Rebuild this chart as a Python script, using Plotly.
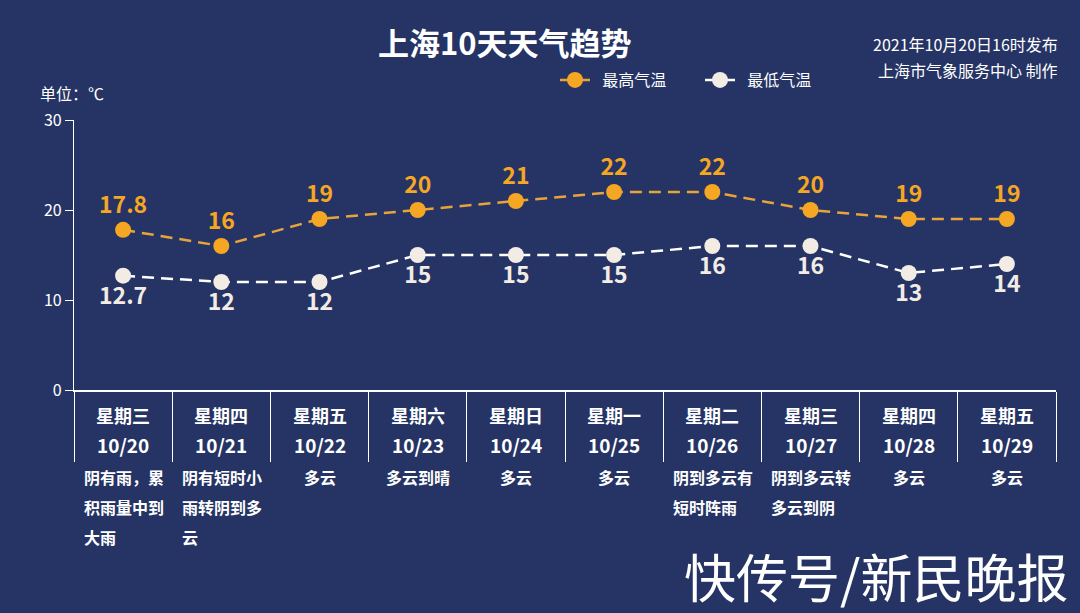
import plotly.graph_objects as go

weekdays = ["星期三", "星期四", "星期五", "星期六", "星期日", "星期一", "星期二", "星期三", "星期四", "星期五"]
dates = ["10/20", "10/21", "10/22", "10/23", "10/24", "10/25", "10/26", "10/27", "10/28", "10/29"]
high_temps = [17.8, 16, 19, 20, 21, 22, 22, 20, 19, 19]
low_temps = [12.7, 12, 12, 15, 15, 15, 16, 16, 13, 14]
weather = [
    ["阴有雨，累", "积雨量中到", "大雨"],
    ["阴有短时小", "雨转阴到多", "云"],
    ["多云"],
    ["多云到晴"],
    ["多云"],
    ["多云"],
    ["阴到多云有", "短时阵雨"],
    ["阴到多云转", "多云到阴"],
    ["多云"],
    ["多云"],
]
y_ticks = [0, 10, 20, 30]

BG = "#253464"
ORANGE = "#F5A623"
CREAM = "#F3ECE4"
FONT = "Noto Sans CJK SC"

W, H = 1080, 613
L, R, T, B = 74, 24, 120, 223
pw, ph = W - L - R, H - T - B
def px(x):
    return (x - L) / pw
def py(y):
    return (H - B - y) / ph

fig = go.Figure()
fig.add_trace(go.Scatter(
    x=dates, y=high_temps, name="  最高气温", mode="lines+markers+text",
    line=dict(color="#E8A33A", width=2.5, dash="12px,7px"),
    marker=dict(color=ORANGE, size=16),
    text=[f"{v:g}" for v in high_temps], textposition="top center",
    textfont=dict(color=ORANGE, size=23, family=FONT, weight="bold"),
    cliponaxis=False,
))
fig.add_trace(go.Scatter(
    x=dates, y=low_temps, name="  最低气温", mode="lines+markers+text",
    line=dict(color="#FFFFFF", width=2.5, dash="12px,7px"),
    marker=dict(color=CREAM, size=16),
    text=[f"{v:g}" for v in low_temps], textposition="bottom center",
    textfont=dict(color=CREAM, size=23, family=FONT, weight="bold"),
    cliponaxis=False,
))

ann = []
CH = 16.5
for i, d in enumerate(dates):
    ann.append(dict(x=d, xref="x", y=0, yref="paper", yshift=-25, text=weekdays[i],
                    showarrow=False, font=dict(color="white", size=18, family=FONT, weight="bold"),
                    xanchor="center", yanchor="middle"))
    ann.append(dict(x=d, xref="x", y=0, yref="paper", yshift=-54, text=d,
                    showarrow=False, font=dict(color="white", size=19, family=FONT, weight="bold"),
                    xanchor="center", yanchor="middle"))
    lines = weather[i]
    maxlen = max(len(s) for s in lines)
    for j, s in enumerate(lines):
        if len(lines) == 1:
            ann.append(dict(x=d, xref="x", y=0, yref="paper", yshift=-87 - 30 * j, text=s,
                            showarrow=False, font=dict(color="white", size=16, family=FONT, weight="bold"),
                            xanchor="center", yanchor="middle"))
        else:
            ann.append(dict(x=d, xref="x", y=0, yref="paper", yshift=-87 - 30 * j, text=s,
                            xshift=-maxlen * CH / 2, showarrow=False,
                            font=dict(color="white", size=16, family=FONT, weight="bold"),
                            xanchor="left", yanchor="middle"))

ann += [
    dict(x=px(505), y=py(42), xref="paper", yref="paper", text="上海10天天气趋势",
         showarrow=False, font=dict(color="white", size=31, family=FONT, weight="bold"),
         xanchor="center", yanchor="middle"),
    dict(x=px(1060), y=py(44), xref="paper", yref="paper", text="2021年10月20日16时发布",
         showarrow=False, font=dict(color="white", size=16, family=FONT),
         xanchor="right", yanchor="middle"),
    dict(x=px(1060), y=py(70), xref="paper", yref="paper", text="上海市气象服务中心 制作",
         showarrow=False, font=dict(color="white", size=16, family=FONT),
         xanchor="right", yanchor="middle"),
    dict(x=px(38), y=py(93), xref="paper", yref="paper", text="单位：℃",
         showarrow=False, font=dict(color="white", size=16, family=FONT),
         xanchor="left", yanchor="middle"),
    dict(x=px(1070), y=py(575), xref="paper", yref="paper", text="快传号/新民晚报",
         showarrow=False, font=dict(color="white", size=52, family=FONT),
         xanchor="right", yanchor="middle"),
]

fig.update_layout(
    width=W, height=H,
    paper_bgcolor=BG, plot_bgcolor=BG,
    margin=dict(l=L, r=R, t=T, b=B),
    font=dict(family=FONT, color="white", size=14),
    showlegend=True,
    legend=dict(orientation="h", x=px(555), xanchor="left", y=py(80), yanchor="middle",
                font=dict(color="white", size=16, family=FONT), bgcolor="rgba(0,0,0,0)",
                itemwidth=30, entrywidth=100, entrywidthmode="pixels"),
    xaxis=dict(type="category", range=[-0.5, 9.5], showgrid=False, zeroline=False,
               showline=True, linecolor="white", linewidth=1.5,
               ticks="outside", tickson="boundaries", ticklen=70, tickcolor="white", tickwidth=1.2,
               showticklabels=False, fixedrange=True),
    yaxis=dict(range=[0, 30], tickvals=y_ticks, showgrid=False, zeroline=False,
               showline=True, linecolor="white", linewidth=1.2,
               ticks="outside", ticklen=8, tickcolor="white", tickwidth=1.2,
               tickfont=dict(color="white", size=16, family=FONT), fixedrange=True),
    annotations=ann,
)

fig.write_html("out.html")
